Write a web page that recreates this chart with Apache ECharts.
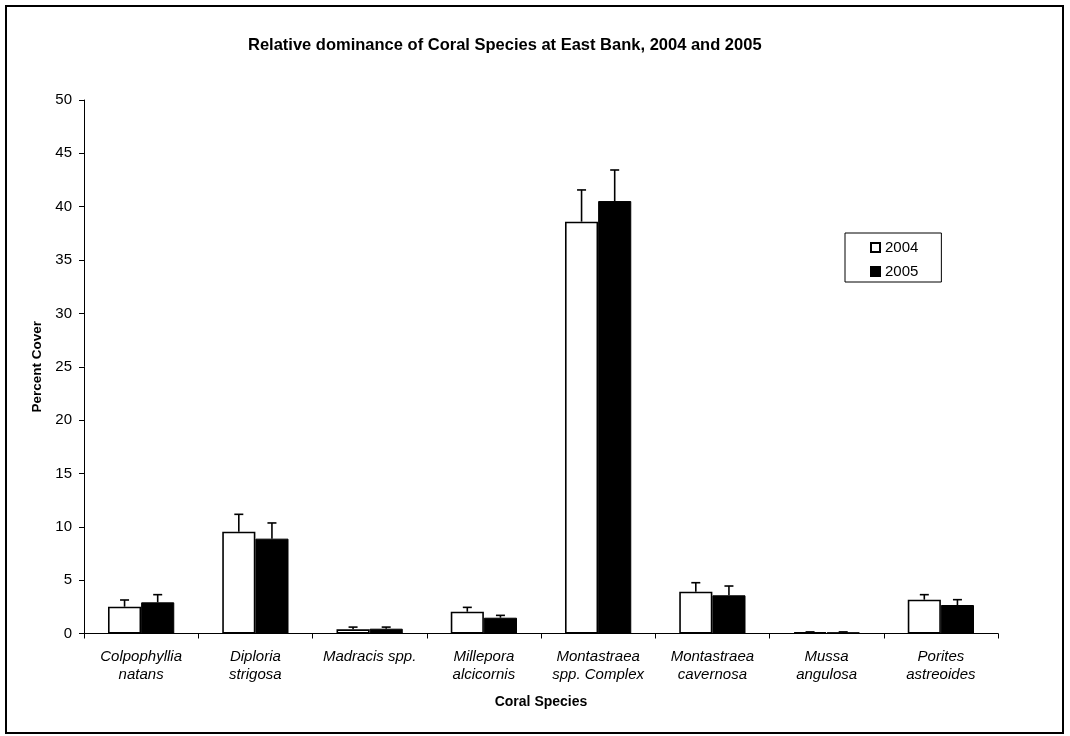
<!DOCTYPE html>
<html>
<head>
<meta charset="utf-8">
<title>Relative dominance of Coral Species at East Bank, 2004 and 2005</title>
<script src="https://cdn.jsdelivr.net/npm/echarts@6/dist/echarts.min.js"></script>
<style>
  html, body { margin: 0; padding: 0; background: #fff; }
  #chart { width: 1070px; height: 736px; }
</style>
</head>
<body>
<div id="chart"></div>
<script>
// Species surveyed (two-line axis labels)
const species = [
  'Colpophyllia\nnatans',
  'Diploria\nstrigosa',
  'Madracis spp.',
  'Millepora\nalcicornis',
  'Montastraea\nspp. Complex',
  'Montastraea\ncavernosa',
  'Mussa\nangulosa',
  'Porites\nastreoides'
];
const years = ['2004', '2005'];

// Mean percent cover per species
const cover2004 = [2.51, 9.54, 0.39, 2.04, 38.6, 3.92, 0.11, 3.17];
const cover2005 = [2.92, 8.89, 0.45, 1.48, 40.53, 3.58, 0.11, 2.67];

// Standard error (drawn upward only)
const err2004 = [0.63, 1.63, 0.21, 0.41, 2.97, 0.84, 0.04, 0.47];
const err2005 = [0.72, 1.47, 0.15, 0.22, 2.91, 0.87, 0.04, 0.50];

const yTicks = [0, 5, 10, 15, 20, 25, 30, 35, 40, 45, 50];

const BAR_FRACTION = 0.29;   // each bar's share of a category band
const FONT = '"Liberation Sans", Arial, sans-serif';

// Upward error whisker with a cap, placed over the bar of the given group
function errorRenderer(groupIndex, values, errors) {
  return function (params, api) {
    const i = api.value(0);
    const band = api.size([1, 0])[0];
    const center = api.coord([i, 0])[0];
    const x = center + (groupIndex === 0 ? -0.5 : 0.5) * band * BAR_FRACTION;
    const top = api.coord([i, values[i] + errors[i]])[1];
    const base = api.coord([i, values[i]])[1];
    const cap = 4.5;
    const style = { stroke: '#000', lineWidth: 1.6 };
    return {
      type: 'group',
      children: [
        { type: 'line', shape: { x1: x, y1: base, x2: x, y2: top }, style: style },
        { type: 'line', shape: { x1: x - cap, y1: top, x2: x + cap, y2: top }, style: style }
      ]
    };
  };
}

const chart = echarts.init(document.getElementById('chart'), null, { renderer: 'canvas' });

chart.setOption({
  animation: false,
  backgroundColor: '#fff',
  textStyle: { fontFamily: FONT },
  title: {
    text: 'Relative dominance of Coral Species at East Bank, 2004 and 2005',
    left: 243,
    top: 32,
    textStyle: { fontFamily: FONT, fontSize: 16.5, fontWeight: 'bold', color: '#000' }
  },
  graphic: [{
    type: 'rect',
    shape: { x: 6, y: 6, width: 1057, height: 727 },
    style: { fill: 'none', stroke: '#000', lineWidth: 2 },
    silent: true,
    z: -1
  }],
  legend: {
    data: years,
    orient: 'vertical',
    left: 845,
    top: 233,
    padding: [7, 23, 3, 25],
    itemGap: 9,
    itemWidth: 9,
    itemHeight: 9,
    icon: 'rect',
    borderColor: '#000',
    borderWidth: 1,
    backgroundColor: '#fff',
    textStyle: { fontFamily: FONT, fontSize: 15, color: '#000', lineHeight: 14 }
  },
  grid: { left: 84, right: 72, top: 100, bottom: 102.5, containLabel: false },
  xAxis: {
    type: 'category',
    data: species,
    name: 'Coral Species',
    nameLocation: 'middle',
    nameGap: 62,
    nameTextStyle: { fontFamily: FONT, fontSize: 14, fontWeight: 'bold', color: '#000' },
    axisLine: { lineStyle: { color: '#000', width: 1 } },
    axisTick: { show: true, length: 5, lineStyle: { color: '#000' } },
    axisLabel: {
      interval: 0,
      margin: 14,
      fontFamily: FONT,
      fontSize: 15,
      fontStyle: 'italic',
      color: '#000',
      lineHeight: 18
    }
  },
  yAxis: {
    type: 'value',
    min: yTicks[0],
    max: yTicks[yTicks.length - 1],
    interval: yTicks[1] - yTicks[0],
    name: 'Percent Cover',
    nameLocation: 'middle',
    nameGap: 35,
    nameTextStyle: { fontFamily: FONT, fontSize: 13.5, fontWeight: 'bold', color: '#000' },
    axisLine: { show: true, lineStyle: { color: '#000', width: 1 } },
    axisTick: { show: true, length: 5, lineStyle: { color: '#000' } },
    axisLabel: { margin: 12, fontFamily: FONT, fontSize: 15, color: '#000' },
    splitLine: { show: false }
  },
  series: [
    {
      name: years[0],
      type: 'bar',
      data: cover2004,
      barWidth: (BAR_FRACTION * 100) + '%',
      barGap: '0%',
      itemStyle: { color: '#fff', borderColor: '#000', borderWidth: 1.6 }
    },
    {
      name: years[1],
      type: 'bar',
      data: cover2005,
      barWidth: (BAR_FRACTION * 100) + '%',
      barGap: '0%',
      itemStyle: { color: '#000', borderColor: '#000', borderWidth: 1 }
    },
    {
      type: 'custom',
      name: 'err2004',
      data: cover2004.map((v, i) => [i, v]),
      renderItem: errorRenderer(0, cover2004, err2004),
      z: 3,
      silent: true
    },
    {
      type: 'custom',
      name: 'err2005',
      data: cover2005.map((v, i) => [i, v]),
      renderItem: errorRenderer(1, cover2005, err2005),
      z: 3,
      silent: true
    }
  ]
});
</script>
</body>
</html>
